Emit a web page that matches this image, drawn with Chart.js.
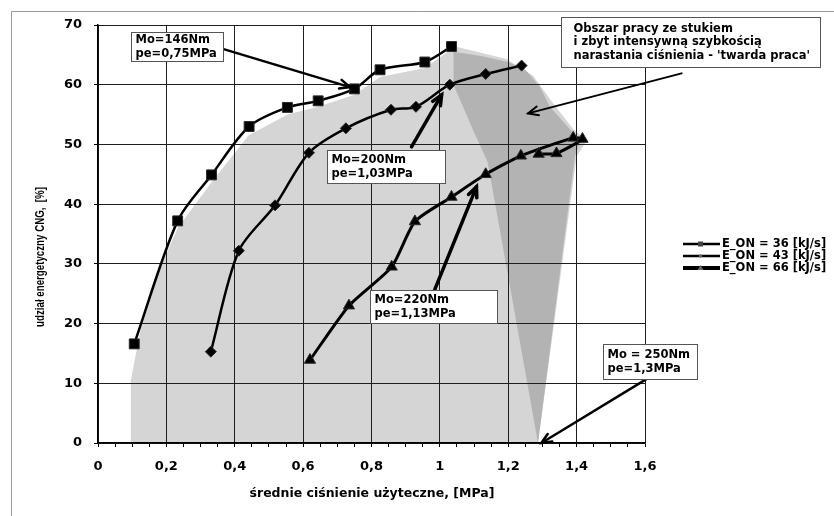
<!DOCTYPE html>
<html>
<head>
<meta charset="utf-8">
<script src="https://cdn.jsdelivr.net/npm/chart.js@4.4.1/dist/chart.umd.min.js"></script>
<style>
  html, body { margin: 0; padding: 0; background: #fff; }
</style>
</head>
<body>
<canvas id="chart" width="834" height="516"></canvas>
<script>
// --- DANE | SERIE --- //
// E_ON = 36 kJ/s (kwadraty)
const pe36 = [0.106, 0.233, 0.332, 0.442, 0.554, 0.644, 0.750, 0.825, 0.956, 1.034]
const cng36 = [16.6, 37.2, 44.9, 53.0, 56.2, 57.3, 59.3, 62.5, 63.8, 66.4]
// E_ON = 43 kJ/s (romby)
const pe43 = [0.330, 0.412, 0.518, 0.617, 0.725, 0.857, 0.930, 1.029, 1.134, 1.239]
const cng43 = [15.3, 32.2, 39.8, 48.6, 52.7, 55.8, 56.3, 60.0, 61.8, 63.2]
// E_ON = 66 kJ/s (trojkaty) - kolejnosc punktow jak w pomiarze
const pe66 = [0.620, 0.734, 0.859, 0.927, 1.034, 1.134, 1.237, 1.390, 1.417, 1.341, 1.289]
const cng66 = [13.9, 23.0, 29.5, 37.1, 41.2, 45.0, 48.1, 51.1, 50.9, 48.5, 48.4]

const seriesLabels = ['E_ON = 36 [kJ/s]', 'E_ON = 43 [kJ/s]', 'E_ON = 66 [kJ/s]']

// --- DANE | OBSZARY --- //
// jasny obszar pracy
const areaX = [0.096, 0.096, 0.125, 0.18, 0.233, 0.33, 0.44, 0.554, 0.644, 0.75, 0.825, 0.956, 1.045, 1.195, 1.273, 1.33, 1.39, 1.43, 1.40, 1.287]
const areaY = [0, 10.5, 19, 29, 36, 43.5, 51.5, 55, 56.3, 58.3, 61.3, 62.8, 66.4, 64.3, 61.5, 57, 52.6, 50.7, 48, 0]
// ciemny obszar - 'twarda praca'
const hardX = [1.04, 1.12, 1.20, 1.25, 1.292, 1.322, 1.39, 1.41, 1.395, 1.287, 1.14, 1.097, 1.04]
const hardY = [65.5, 64.8, 63.8, 62.5, 59.7, 56.3, 51.9, 50.5, 48, 0, 47, 52.4, 60]

// --- OSIE --- //
const xMin = 0, xMax = 1.6, xMajor = 0.2, xMinor = 0.05
const yMin = 0, yMax = 70, yStep = 10
const xTitle = 'średnie ciśnienie użyteczne, [MPa]'
const yTitle = 'udział energetyczny CNG,  [%]'

// --- OPISY (ramki + strzalki) --- //
const notes = [
  { lines: ['Mo=146Nm', 'pe=0,75MPa'], x: 0.0965, y: 68.9, w: 92, h: 29, from: [0.365, 66.0], to: [0.737, 59.6], lw: 2.5 },
  { lines: ['Mo=200Nm', 'pe=1,03MPa'], x: 0.670, y: 49.1, w: 118, h: 33, from: [0.917, 49.6], to: [1.005, 58.3], lw: 3.5 },
  { lines: ['Mo=220Nm', 'pe=1,13MPa'], x: 0.795, y: 25.6, w: 127, h: 33, from: [0.985, 25.7], to: [1.107, 42.9], lw: 3.5 },
  { lines: ['Mo = 250Nm', 'pe=1,3MPa'], x: 1.477, y: 16.6, w: 94, h: 35, from: [1.604, 10.7], to: [1.297, 0], lw: 2.5 },
  { lines: ['Obszar pracy ze stukiem', 'i zbyt intensywną szybkością', "narastania ciśnienia - 'twarda praca'"],
    x: 1.354, y: 71.3, w: 259, h: 50, from: [1.707, 61.9], to: [1.258, 55.2], lw: 2 }
]

const toPoints = (xs, ys) => xs.map((x, i) => ({ x, y: ys[i] }))
const isMajor = v => Math.abs(v / xMajor - Math.round(v / xMajor)) < 1e-6
const fmt = v => String(Math.round(v * 100) / 100).replace('.', ',')

const FONT = '"DejaVu Sans", sans-serif'

// ramka wokol wykresu (lewa i gorna krawedz)
const frame = {
  id: 'frame',
  beforeDraw: chart => {
    const ctx = chart.ctx
    ctx.save()
    ctx.strokeStyle = '#9a9a9a'
    ctx.lineWidth = 1
    ctx.beginPath()
    ctx.moveTo(11.5, 516)
    ctx.lineTo(11.5, 11.5)
    ctx.lineTo(834, 11.5)
    ctx.stroke()
    ctx.restore()
  }
}

function arrow (ctx, x1, y1, x2, y2, lw) {
  const ang = Math.atan2(y2 - y1, x2 - x1)
  const len = 11
  ctx.lineWidth = lw
  ctx.lineCap = 'round'
  ctx.beginPath()
  ctx.moveTo(x1, y1)
  ctx.lineTo(x2, y2)
  ctx.stroke()
  ctx.beginPath()
  ctx.moveTo(x2 - len * Math.cos(ang - 0.42), y2 - len * Math.sin(ang - 0.42))
  ctx.lineTo(x2, y2)
  ctx.lineTo(x2 - len * Math.cos(ang + 0.42), y2 - len * Math.sin(ang + 0.42))
  ctx.stroke()
}

// opisy, legenda i tytuly osi
const notesPlugin = {
  id: 'notes',
  afterDatasetsDraw: chart => {
    const ctx = chart.ctx
    const sx = chart.scales.x
    const sy = chart.scales.y
    ctx.save()
    ctx.strokeStyle = '#000'
    notes.forEach(n => {
      arrow(ctx, sx.getPixelForValue(n.from[0]), sy.getPixelForValue(n.from[1]),
        sx.getPixelForValue(n.to[0]), sy.getPixelForValue(n.to[1]), n.lw)
    })
    notes.forEach(n => {
      const left = Math.round(sx.getPixelForValue(n.x)) + 0.5
      const top = Math.round(sy.getPixelForValue(n.y)) + 0.5
      ctx.fillStyle = '#fff'
      ctx.fillRect(left, top, n.w, n.h)
      ctx.strokeStyle = '#555'
      ctx.lineWidth = 1
      ctx.strokeRect(left, top, n.w, n.h)
      ctx.fillStyle = '#000'
      ctx.font = `bold 11.5px ${FONT}`
      ctx.textBaseline = 'middle'
      ctx.textAlign = 'left'
      const pad = n.lines.length > 2 ? 12 : 4
      const step = 13.3
      const y0 = top + n.h / 2 - (n.lines.length - 1) * step / 2
      n.lines.forEach((t, i) => ctx.fillText(t, left + pad, y0 + i * step))
    })
    ctx.restore()
  },
  afterDraw: chart => {
    const ctx = chart.ctx
    ctx.save()
    // legenda
    const rows = [244, 256, 268]
    chart.data.datasets.slice(0, 3).forEach((ds, i) => {
      const y = rows[i]
      ctx.strokeStyle = '#000'
      ctx.fillStyle = '#000'
      ctx.lineWidth = i === 2 ? 4 : 2.5
      ctx.beginPath()
      ctx.moveTo(683, y)
      ctx.lineTo(720, y)
      ctx.stroke()
      ctx.beginPath()
      if (i === 0) {
        ctx.fillStyle = '#444'
        ctx.fillRect(698, y - 2.5, 5, 5)
      } else if (i === 1) {
        ctx.fillStyle = '#666'
        ctx.arc(700.5, y, 1.8, 0, Math.PI * 2)
        ctx.fill()
      } else {
        ctx.fillStyle = '#666'
        ctx.moveTo(700.5, y - 3)
        ctx.lineTo(703.5, y + 2)
        ctx.lineTo(697.5, y + 2)
        ctx.closePath()
        ctx.fill()
      }
      ctx.fillStyle = '#000'
      ctx.font = `bold 11.5px ${FONT}`
      ctx.textAlign = 'left'
      ctx.textBaseline = 'middle'
      ctx.fillText(ds.label, 722, y)
    })
    // tytul osi X
    ctx.font = `bold 12.5px ${FONT}`
    ctx.textAlign = 'center'
    ctx.textBaseline = 'middle'
    ctx.fillText(xTitle, 372, 494)
    // tytul osi Y (pionowo, sciesniony)
    ctx.translate(40, 257)
    ctx.rotate(-Math.PI / 2)
    ctx.scale(0.72, 1)
    ctx.font = 'bold 13.5px "Liberation Sans", Arial, sans-serif'
    ctx.fillText(yTitle, 0, 0)
    ctx.restore()
  }
}

const lineSeries = (i, xs, ys, style, radius, width, tension) => ({
  label: seriesLabels[i],
  data: toPoints(xs, ys),
  borderColor: '#000',
  backgroundColor: '#000',
  borderWidth: width,
  pointStyle: style,
  pointRadius: radius,
  pointBackgroundColor: '#000',
  pointBorderColor: '#2a2a2a',
  pointBorderWidth: 1,
  tension: tension,
  fill: false
})

const areaSeries = (xs, ys, color) => ({
  data: toPoints(xs, ys),
  borderWidth: 0,
  borderColor: 'rgba(0,0,0,0)',
  backgroundColor: color,
  pointRadius: 0,
  tension: 0,
  fill: 'shape'
})

const gridColor = '#1e1e1e'

const chart = new Chart(document.getElementById('chart'), {
  type: 'line',
  data: {
    datasets: [
      lineSeries(0, pe36, cng36, 'rect', 7, 2.5, 0.3),
      lineSeries(1, pe43, cng43, 'rectRot', 5.5, 2.5, 0.3),
      lineSeries(2, pe66, cng66, 'triangle', 6.5, 3, 0.2),
      areaSeries(hardX, hardY, '#b3b3b3'),
      areaSeries(areaX, areaY, '#d5d5d5')
    ]
  },
  options: {
    responsive: false,
    animation: false,
    devicePixelRatio: 1,
    layout: { padding: { left: 0, top: 25, right: 189, bottom: 0 } },
    scales: {
      x: {
        type: 'linear',
        min: xMin,
        max: xMax,
        afterFit: s => { s.height = 73 },
        afterBuildTicks: s => {
          const t = []
          for (let k = 0; k <= Math.round((xMax - xMin) / xMinor); k++) t.push({ value: xMin + k * xMinor })
          s.ticks = t
        },
        border: { color: '#000', width: 1.5 },
        grid: {
          color: c => (c.tick && isMajor(c.tick.value) ? gridColor : 'rgba(0,0,0,0)'),
          tickColor: '#000',
          tickLength: 4,
          lineWidth: 1
        },
        ticks: {
          autoSkip: false,
          maxRotation: 0,
          padding: 12,
          color: '#000',
          font: { family: FONT, size: 13, weight: 'bold' },
          callback: v => (isMajor(v) ? fmt(v) : '')
        }
      },
      y: {
        min: yMin,
        max: yMax,
        afterFit: s => { s.width = 98 },
        border: { color: '#000', width: 1.5 },
        grid: { color: gridColor, tickColor: '#000', tickLength: 4, lineWidth: 1 },
        ticks: {
          stepSize: yStep,
          padding: 12,
          color: '#000',
          font: { family: FONT, size: 13, weight: 'bold' }
        }
      }
    },
    plugins: {
      legend: { display: false },
      tooltip: { enabled: false },
      filler: { drawTime: 'beforeDraw' }
    }
  },
  plugins: [frame, notesPlugin]
})
</script>
</body>
</html>
